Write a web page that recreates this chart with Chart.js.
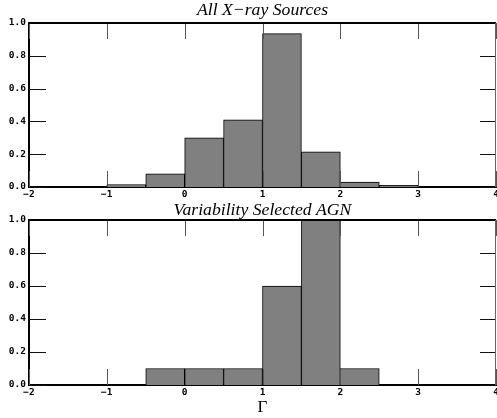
<!DOCTYPE html>
<html>
<head>
<meta charset="utf-8">
<script src="https://cdn.jsdelivr.net/npm/chart.js@4/dist/chart.umd.min.js"></script>
<style>
  html, body { margin: 0; padding: 0; background: #fff; overflow: hidden; }
  body { width: 497px; height: 418px; position: relative; }
  .panel { position: absolute; left: 0; width: 520px; }
  #top-panel { top: 0; height: 200px; }
  #bottom-panel { top: 200px; height: 218px; }
</style>
</head>
<body>
<div class="panel" id="top-panel"><canvas id="allSources"></canvas></div>
<div class="panel" id="bottom-panel"><canvas id="agnSources"></canvas></div>
<script>
// photon index bins (centres), width 0.5
const binCentres = [-0.75, -0.25, 0.25, 0.75, 1.25, 1.75, 2.25, 2.75];
// normalised counts, all X-ray sources
const allFractions = [0.015, 0.08, 0.30, 0.41, 0.935, 0.215, 0.03, 0.01];
// normalised counts, variability selected AGN
const agnFractions = [0, 0.1, 0.1, 0.1, 0.6, 1.0, 0.1, 0];

const xTicks = [-2, -1, 0, 1, 2, 3, 4];
const yTicks = [0, 0.2, 0.4, 0.6, 0.8, 1.0];

const tickFont = { family: 'DejaVu Sans Mono', weight: 'bold', size: 9.5 };
const titleFont = 'italic 17.7px "Liberation Serif"';

// closed frame, inward ticks on all four sides, and the panel title
const frameTicks = {
    id: 'frameTicks',
    afterDraw(chart, args, opts) {
        const { ctx, chartArea: a, scales } = chart;
        ctx.save();
        ctx.lineWidth = 1;
        ctx.strokeStyle = '#555';
        xTicks.forEach(v => {
            const px = Math.round(scales.x.getPixelForValue(v)) + 0.5;
            ctx.beginPath();
            ctx.moveTo(px, a.top); ctx.lineTo(px, a.top + 16);
            ctx.moveTo(px, a.bottom); ctx.lineTo(px, a.bottom - 16);
            ctx.stroke();
        });
        ctx.strokeStyle = '#111';
        yTicks.forEach(v => {
            const py = Math.round(scales.y.getPixelForValue(v)) + 0.5;
            ctx.beginPath();
            ctx.moveTo(a.left, py); ctx.lineTo(a.left + 17, py);
            ctx.moveTo(a.right, py); ctx.lineTo(a.right - 16, py);
            ctx.stroke();
        });
        // top spine
        ctx.strokeStyle = '#000';
        ctx.lineWidth = 2;
        ctx.beginPath();
        ctx.moveTo(a.left, a.top); ctx.lineTo(a.right, a.top);
        ctx.stroke();
        // right spine
        ctx.strokeStyle = '#666';
        ctx.lineWidth = 1;
        ctx.beginPath();
        ctx.moveTo(Math.round(a.right) - 0.5, a.top); ctx.lineTo(Math.round(a.right) - 0.5, a.bottom);
        ctx.stroke();
        // title, centred over the plot area
        ctx.fillStyle = '#000';
        ctx.font = titleFont;
        ctx.textAlign = 'center';
        ctx.textBaseline = 'alphabetic';
        ctx.fillText(opts.text, (a.left + a.right) / 2, opts.baseline);
        ctx.restore();
    }
};

function histogram(canvasId, values, title, opts) {
    const ctx = document.getElementById(canvasId).getContext('2d');
    return new Chart(ctx, {
        type: 'bar',
        data: {
            datasets: [{
                data: binCentres.map((c, i) => ({ x: c, y: values[i] })),
                backgroundColor: '#808080',
                borderColor: '#000',
                borderWidth: 1,
                barPercentage: 1,
                categoryPercentage: 1
            }]
        },
        options: {
            responsive: true,
            maintainAspectRatio: false,
            animation: false,
            events: [],
            layout: { padding: { top: opts.padTop, right: 24, left: 0, bottom: 0 } },
            plugins: {
                legend: { display: false },
                tooltip: { enabled: false },
                title: { display: false },
                frameTicks: { text: title, baseline: opts.titleBaseline }
            },
            scales: {
                x: {
                    type: 'linear',
                    min: -2,
                    max: 4,
                    offset: false,
                    grid: { display: false, drawTicks: false, offset: false },
                    border: { display: true, color: '#000', width: 2 },
                    afterBuildTicks: scale => { scale.ticks = xTicks.map(v => ({ value: v })); },
                    afterFit: scale => { scale.height = opts.xHeight; },
                    ticks: {
                        color: '#000',
                        font: tickFont,
                        padding: 2,
                        maxRotation: 0,
                        autoSkip: false,
                        callback: v => String(v).replace('-', '\u2212')
                    },
                    title: opts.xTitle ? {
                        display: true,
                        text: opts.xTitle,
                        color: '#000',
                        font: { family: 'Liberation Serif', size: 17 },
                        padding: { top: 0, bottom: 0 }
                    } : { display: false }
                },
                y: {
                    min: 0,
                    max: 1,
                    grid: { display: false, drawTicks: false },
                    border: { display: true, color: '#000', width: 2 },
                    afterBuildTicks: scale => { scale.ticks = yTicks.map(v => ({ value: v })); },
                    afterFit: scale => { scale.width = 29; },
                    ticks: {
                        color: '#000',
                        font: tickFont,
                        padding: 3,
                        callback: v => v.toFixed(1)
                    }
                }
            }
        },
        plugins: [frameTicks]
    });
}

histogram('allSources', allFractions, 'All X\u2212ray Sources',
    { padTop: 23, titleBaseline: 15, xHeight: 13 });
histogram('agnSources', agnFractions, 'Variability Selected AGN',
    { padTop: 20, titleBaseline: 15, xHeight: 33, xTitle: '\u0393' });
</script>
</body>
</html>
